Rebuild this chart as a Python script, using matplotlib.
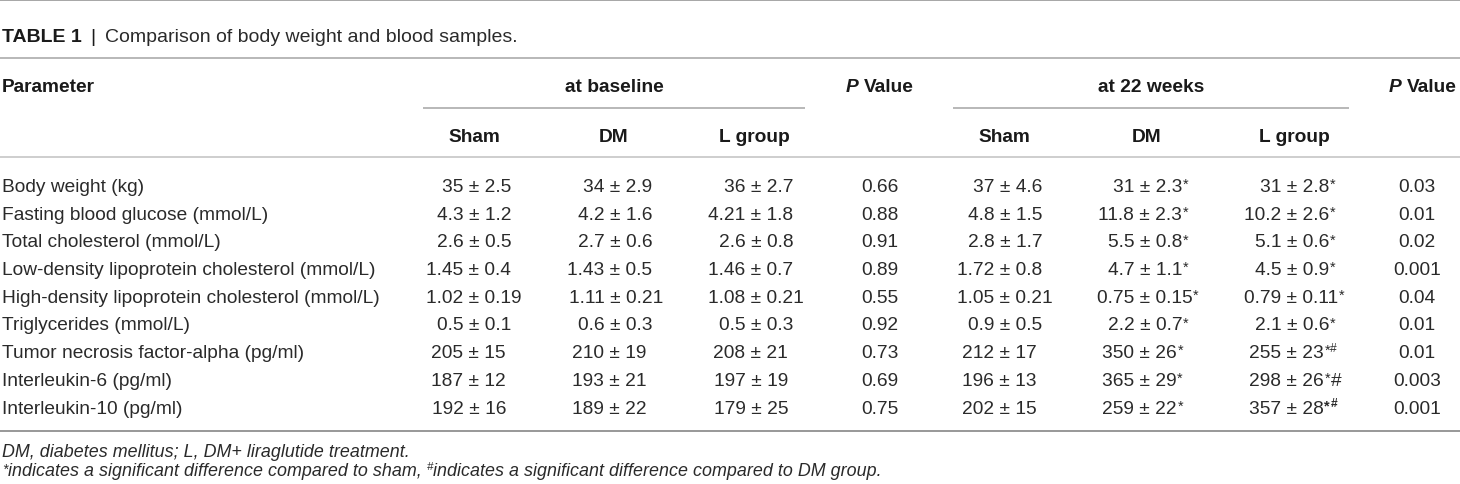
import matplotlib
matplotlib.use("Agg")
import matplotlib.pyplot as plt

plt.rcParams['font.family'] = ['Liberation Sans', 'DejaVu Sans']

# ---------------- data ----------------
title_bold = "TABLE 1"
title_text = "Comparison of body weight and blood samples."

params = ["Body weight (kg)", "Fasting blood glucose (mmol/L)", "Total cholesterol (mmol/L)",
          "Low-density lipoprotein cholesterol (mmol/L)", "High-density lipoprotein cholesterol (mmol/L)",
          "Triglycerides (mmol/L)", "Tumor necrosis factor-alpha (pg/ml)", "Interleukin-6 (pg/ml)",
          "Interleukin-10 (pg/ml)"]

group_headers = ["at baseline", "at 22 weeks"]
sub_headers = ["Sham", "DM", "L group"]

base_sham = ["35 ± 2.5", "4.3 ± 1.2", "2.6 ± 0.5", "1.45 ± 0.4", "1.02 ± 0.19", "0.5 ± 0.1", "205 ± 15", "187 ± 12", "192 ± 16"]
base_dm = ["34 ± 2.9", "4.2 ± 1.6", "2.7 ± 0.6", "1.43 ± 0.5", "1.11 ± 0.21", "0.6 ± 0.3", "210 ± 19", "193 ± 21", "189 ± 22"]
base_l = ["36 ± 2.7", "4.21 ± 1.8", "2.6 ± 0.8", "1.46 ± 0.7", "1.08 ± 0.21", "0.5 ± 0.3", "208 ± 21", "197 ± 19", "179 ± 25"]
p_base = ["0.66", "0.88", "0.91", "0.89", "0.55", "0.92", "0.73", "0.69", "0.75"]

w22_sham = ["37 ± 4.6", "4.8 ± 1.5", "2.8 ± 1.7", "1.72 ± 0.8", "1.05 ± 0.21", "0.9 ± 0.5", "212 ± 17", "196 ± 13", "202 ± 15"]
w22_dm = ["31 ± 2.3", "11.8 ± 2.3", "5.5 ± 0.8", "4.7 ± 1.1", "0.75 ± 0.15", "2.2 ± 0.7", "350 ± 26", "365 ± 29", "259 ± 22"]
w22_dm_sup = ["*", "*", "*", "*", "*", "*", "*", "*", "*"]
w22_l = ["31 ± 2.8", "10.2 ± 2.6", "5.1 ± 0.6", "4.5 ± 0.9", "0.79 ± 0.11", "2.1 ± 0.6", "255 ± 23", "298 ± 26", "357 ± 28"]
w22_l_sup = ["*", "*", "*", "*", "*", "*", "*#", "*", "*#"]
w22_l_tail = ["", "", "", "", "", "", "", "#", ""]
w22_l_sup_bold = [False, False, False, False, False, False, False, False, True]
p_22 = ["0.03", "0.01", "0.02", "0.001", "0.04", "0.01", "0.01", "0.003", "0.001"]

foot1 = "DM, diabetes mellitus; L, DM+ liraglutide treatment."
foot2a = "indicates a significant difference compared to sham,"
foot2b = "indicates a significant difference compared to DM group."

# ---------------- layout ----------------
W, H = 1460, 485
fig = plt.figure(figsize=(W / 100, H / 100), dpi=100)
ax = fig.add_axes([0, 0, 1, 1])
ax.set_xlim(0, W)
ax.set_ylim(H, 0)
ax.axis('off')
renderer = fig.canvas.get_renderer()

PX = 0.72
BODY = 19.2 * PX
HEAD = 19.2 * PX
TITLE = 19.5 * PX
FOOT = 17.9 * PX
TXT = '#2a2a2a'
HDR = '#1a1a1a'

# superscript glyph styles: size (pt), vertical raise (px)
SUP_STYLE = {"*": (14.5 * PX, -3.0), "#": (12 * PX, -6.5)}


def width(t):
    return t.get_window_extent(renderer).width


def runs(x, y, items, ha='left'):
    """items: list of (text, kwargs, dy, gap_before)"""
    made = []
    for text, kw, dy, gap in items:
        t = ax.text(0, y + dy, text, va='baseline', ha='left', **kw)
        made.append((t, gap))
    ws = [width(t) for t, _ in made]
    total = sum(ws) + sum(g for _, g in made)
    if ha == 'center':
        cur = x - total / 2
    elif ha == 'right':
        cur = x - total
    else:
        cur = x
    for (t, g), w in zip(made, ws):
        cur += g
        t.set_x(cur)
        cur += w
    return made


def pm_text(xc, y, s, sup="", tail="", sup_bold=False):
    left = s.split("±")[0] + "±"
    tmp1 = ax.text(0, 0, left, fontsize=BODY)
    tmp2 = ax.text(0, 0, "±", fontsize=BODY)
    off = width(tmp1) - width(tmp2) / 2
    tmp1.remove()
    tmp2.remove()
    t = ax.text(xc - off, y, s, fontsize=BODY, color=TXT, va='baseline', ha='left')
    x_end = xc - off + width(t)
    for ch in sup:
        size, raise_px = SUP_STYLE[ch]
        ts = ax.text(x_end + 0.3, y + raise_px, ch, fontsize=size, color=TXT, va='baseline', ha='left',
                     fontweight='bold' if sup_bold else 'normal')
        x_end = x_end + 0.3 + width(ts)
    if tail:
        ax.text(x_end + 0.5, y, tail, fontsize=BODY, color=TXT, va='baseline', ha='left')


def hline(y, x0, x1, color, lw_px):
    ax.plot([x0, x1], [y, y], color=color, lw=lw_px * PX, solid_capstyle='butt')


# rules
hline(1, 0, W, '#a8a8a8', 2)
hline(59, 0, W, '#a8a8a8', 1.6)
hline(109, 423, 805, '#a8a8a8', 1.6)
hline(109, 953, 1349, '#a8a8a8', 1.6)
hline(158, 0, W, '#c4c4c4', 1.6)
hline(432, 0, W, '#9a9a9a', 2)

# title
ax.text(2, 42, title_bold, fontsize=TITLE, fontweight='bold', color=HDR, va='baseline', ha='left')
ax.text(93, 42, "|", fontsize=TITLE, color=HDR, va='baseline', ha='center')
ax.text(105, 42, title_text, fontsize=TITLE, color=TXT, va='baseline', ha='left')

# header row 1
hb = dict(fontsize=HEAD, fontweight='bold', color=HDR)
ax.text(2, 92, "Parameter", va='baseline', ha='left', **hb)
ax.text(614, 92, group_headers[0], va='baseline', ha='center', **hb)
ax.text(1151, 92, group_headers[1], va='baseline', ha='center', **hb)
for xc in (880, 1423):
    runs(xc, 92, [("P", dict(fontsize=HEAD, fontweight='bold', fontstyle='italic', color=HDR), 0, 0),
                  ("Value", hb, 0, 5.3)], ha='center')

# header row 2
for xs in ((474, 614, 754), (1004, 1147, 1294)):
    for xc, lab in zip(xs, sub_headers):
        ax.text(xc, 142, lab, va='baseline', ha='center', **hb)

# body rows
row0, dy = 185, 27.7
for i, p in enumerate(params):
    yb = row0 + i * dy + 7
    ax.text(2, yb, p, fontsize=BODY, color=TXT, va='baseline', ha='left')
    pm_text(474, yb, base_sham[i])
    pm_text(615, yb, base_dm[i])
    pm_text(756, yb, base_l[i])
    ax.text(880, yb, p_base[i], fontsize=BODY, color=TXT, va='baseline', ha='center')
    pm_text(1005, yb, w22_sham[i])
    pm_text(1145, yb, w22_dm[i], sup=w22_dm_sup[i])
    pm_text(1292, yb, w22_l[i], sup=w22_l_sup[i], tail=w22_l_tail[i], sup_bold=w22_l_sup_bold[i])
    ax.text(1417, yb, p_22[i], fontsize=BODY, color=TXT, va='baseline', ha='center')

# footnotes
fi = dict(fontsize=FOOT, fontstyle='italic', color=TXT)
fstar = dict(fontsize=14 * PX, fontstyle='italic', color=TXT)
fhash = dict(fontsize=11.5 * PX, fontstyle='italic', color=TXT)
ax.text(2, 457, foot1, va='baseline', ha='left', **fi)
runs(2, 476, [("*", fstar, -2.5, 0), (foot2a, fi, 0, 0.3), ("#", fhash, -6, 5.0), (foot2b, fi, 0, 0.3)])

fig.savefig("out.png", dpi=100)
